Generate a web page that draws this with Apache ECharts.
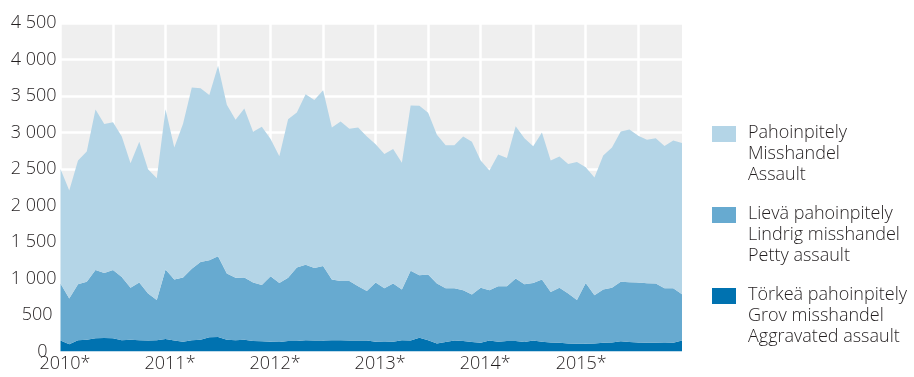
<!DOCTYPE html>
<html>
<head>
<meta charset="utf-8">
<script src="https://cdn.jsdelivr.net/npm/echarts@6/dist/echarts.min.js"></script>
<style>
  html, body { margin: 0; padding: 0; background: #fff; }
  #chart { width: 914px; height: 377px; }
</style>
</head>
<body>
<div id="chart"></div>
<script>
// Monthly assault offences, 2010–2015 (provisional figures marked with *)
const years = [2010, 2011, 2012, 2013, 2014, 2015];
const yearLabels = ['2010*', '2011*', '2012*', '2013*', '2014*', '2015*'];
const yTicks = [0, 500, 1000, 1500, 2000, 2500, 3000, 3500, 4000, 4500];

const seriesNames = [
  'Törkeä pahoinpitely\nGrov misshandel\nAggravated assault',
  'Lievä pahoinpitely\nLindrig misshandel\nPetty assault',
  'Pahoinpitely\nMisshandel\nAssault'
];

// Törkeä pahoinpitely / Aggravated assault
const aggravated = [
  150, 100, 155, 160, 180, 185, 180, 155, 160, 155, 150, 155,
  170, 150, 135, 155, 160, 195, 200, 160, 155, 160, 145, 140,
  135, 130, 145, 145, 155, 150, 150, 155, 155, 150, 150, 150,
  135, 130, 135, 155, 150, 190, 155, 110, 130, 150, 145, 130,
  120, 150, 135, 145, 145, 130, 150, 135, 125, 120, 110, 105,
  105, 110, 120, 125, 140, 130, 125, 120, 120, 115, 120, 150
];

// Lievä pahoinpitely / Petty assault
const petty = [
  780, 625, 765, 795, 935, 890, 935, 865, 715, 790, 645, 550,
  955, 835, 880, 980, 1065, 1055, 1105, 910, 855, 855, 800, 770,
  895, 810, 865, 1005, 1035, 995, 1020, 830, 810, 815, 745, 680,
  810, 735, 795, 695, 955, 855, 900, 820, 735, 715, 695, 650,
  755, 690, 760, 750, 855, 790, 790, 850, 690, 755, 685, 600,
  835, 660, 730, 750, 815, 820, 820, 815, 810, 750, 745, 635
];

// Pahoinpitely / Assault
const assault = [
  1570, 1480, 1695, 1785, 2200, 2040, 2025, 1925, 1705, 1930, 1700, 1670,
  2195, 1810, 2105, 2480, 2380, 2265, 2610, 2310, 2165, 2315, 2065, 2170,
  1880, 1735, 2170, 2125, 2335, 2300, 2410, 2085, 2185, 2085, 2175, 2115,
  1895, 1840, 1845, 1735, 2265, 2320, 2215, 2040, 1960, 1960, 2105, 2095,
  1740, 1640, 1805, 1755, 2085, 2000, 1870, 2015, 1800, 1795, 1775, 1890,
  1585, 1615, 1835, 1920, 2060, 2090, 2010, 1965, 1990, 1950, 2025, 2070
];

const colors = ['#0072b0', '#67aad0', '#b4d5e7'];
const seriesData = [aggravated, petty, assault];

// One category per month
const months = [];
years.forEach(y => {
  for (let m = 1; m <= 12; m++) months.push(y + '-' + (m < 10 ? '0' : '') + m);
});

const FONT = '"Open Sans"';
const SIZE = 18;
const TEXT = '#231f20';

const chart = echarts.init(document.getElementById('chart'), null, { renderer: 'canvas' });

// Legend blocks: swatch aligned with the first line of a three-line label
const legendGraphic = [];
[2, 1, 0].forEach((k, row) => {
  const top = 126 + row * 81;
  legendGraphic.push({
    type: 'rect',
    left: 712, top: top,
    shape: { width: 24, height: 16 },
    style: { fill: colors[k] }
  });
  legendGraphic.push({
    type: 'text',
    left: 748, top: top - 4,
    style: {
      text: seriesNames[k],
      font: '300 ' + SIZE + 'px ' + FONT,
      fill: TEXT,
      lineHeight: 21
    }
  });
});

const labelStyle = (pad) => ({
  fontFamily: FONT, fontWeight: 300, fontSize: SIZE, color: TEXT, padding: pad
});

const option = {
  animation: false,
  grid: {
    left: 60.5, right: 232, top: 23, bottom: 25.5,
    show: true, backgroundColor: '#efefef', borderWidth: 0
  },
  xAxis: {
    type: 'category',
    data: months,
    boundaryGap: false,
    axisLine: { show: false },
    axisTick: { show: false },
    splitLine: {
      show: true,
      interval: (idx) => idx % 6 === 0,
      lineStyle: { color: '#ffffff', width: 2.5 }
    },
    axisLabel: {
      interval: (idx) => idx % 12 === 0,
      margin: 3,
      formatter: (val) => {
        const i = years.indexOf(+val.slice(0, 4));
        return i === years.length - 1 ? '{b|' + yearLabels[i] + '}' : '{a|' + yearLabels[i] + '}';
      },
      rich: {
        a: labelStyle([0, 0, 0, 9]),
        b: labelStyle([0, 9, 0, 0])
      }
    }
  },
  yAxis: {
    type: 'value',
    min: yTicks[0],
    max: yTicks[yTicks.length - 1],
    interval: 500,
    axisLine: { show: false },
    axisTick: { show: false },
    splitLine: { show: true, lineStyle: { color: '#ffffff', width: 2.5 } },
    axisLabel: {
      margin: 4,
      formatter: (v) => {
        const s = String(v).replace(/\B(?=(\d{3})+(?!\d))/g, ' ');
        if (v === 0) return '{c|' + s + '}';
        if (v === 500) return '{d|' + s + '}';
        return '{n|' + s + '}';
      },
      rich: {
        n: labelStyle([0, 0, 0, 0]),
        d: labelStyle([0, 4, 0, 0]),
        c: labelStyle([0, 9, 0, 0])
      }
    }
  },
  series: seriesData.map((d, k) => ({
    name: seriesNames[k],
    type: 'line',
    stack: 'total',
    data: d,
    symbol: 'none',
    lineStyle: { width: 0 },
    areaStyle: { color: colors[k], opacity: 1 },
    itemStyle: { color: colors[k] }
  })),
  graphic: legendGraphic
};

chart.setOption(option);
</script>
</body>
</html>
